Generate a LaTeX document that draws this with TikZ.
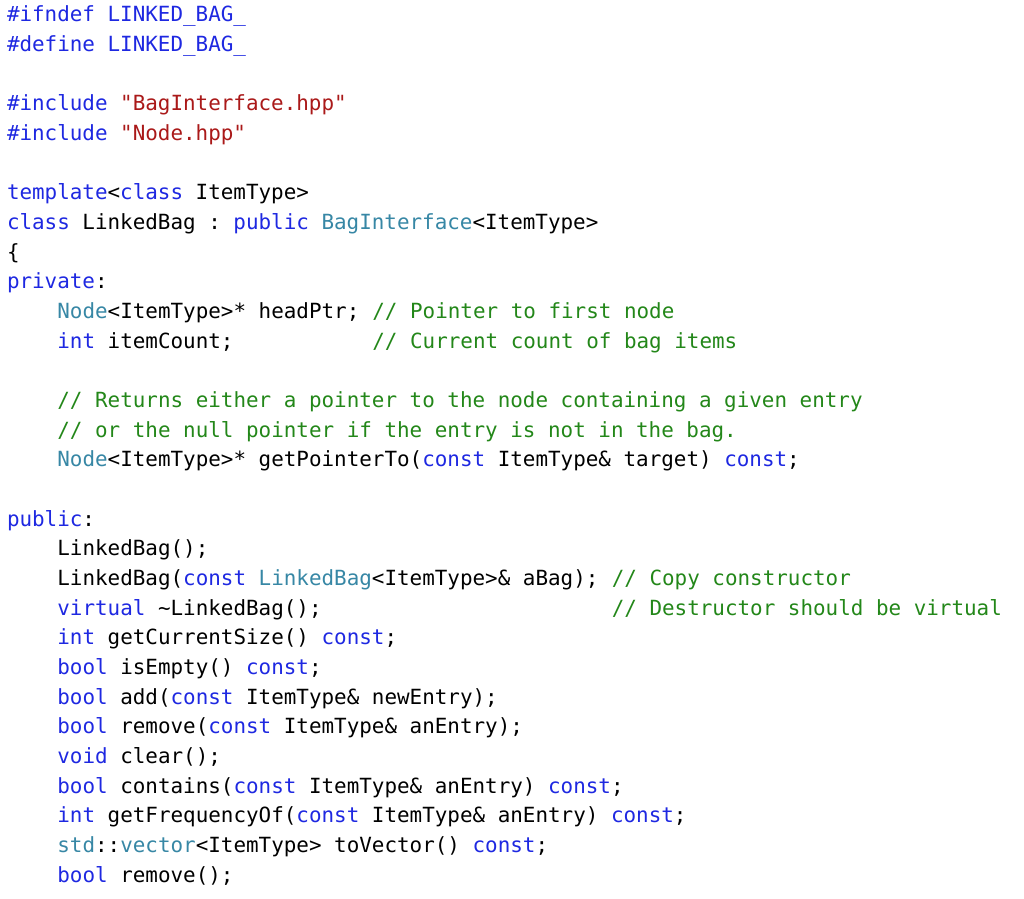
\documentclass[tikz,border=0pt]{standalone}
\usepackage{fontspec}
\setmonofont{DejaVu Sans Mono}
\definecolor{kw}{RGB}{30,40,225}
\definecolor{ty}{RGB}{55,135,165}
\definecolor{st}{RGB}{170,25,25}
\definecolor{cm}{RGB}{35,135,25}
\definecolor{tx}{RGB}{0,0,0}
\newcommand{\K}[1]{\textcolor{kw}{#1}}
\newcommand{\T}[1]{\textcolor{ty}{#1}}
\newcommand{\Sg}[1]{\textcolor{st}{#1}}
\newcommand{\C}[1]{\textcolor{cm}{#1}}
\tikzset{codeline/.style={anchor=base west,inner sep=0pt,outer sep=0pt,font=\ttfamily\fontsize{20.9}{24}\selectfont,text=tx}}
\newcommand{\Ln}[4]{\node[codeline] (#1) at ({7+#3*12.6pt},{898pt-(22pt+(#2-1)*29.66pt)}) {#4};}
\begin{document}
\begin{tikzpicture}[x=1pt,y=1pt]
\useasboundingbox (0,0) rectangle (1024,898);
\Ln{l1}{1}{0}{\K{\#ifndef LINKED\_BAG\_}}
\Ln{l2}{2}{0}{\K{\#define LINKED\_BAG\_}}
\Ln{l4}{4}{0}{\K{\#include} \Sg{"BagInterface.hpp"}}
\Ln{l5}{5}{0}{\K{\#include} \Sg{"Node.hpp"}}
\Ln{l7}{7}{0}{\K{template}<\K{class} ItemType>}
\Ln{l8}{8}{0}{\K{class} LinkedBag : \K{public} \T{BagInterface}<ItemType>}
\Ln{l9}{9}{0}{\{}
\Ln{l10}{10}{0}{\K{private}:}
\Ln{l11}{11}{4}{\T{Node}<ItemType>* headPtr;}
\Ln{l11c}{11}{29}{\C{// Pointer to first node}}
\Ln{l12}{12}{4}{\K{int} itemCount;}
\Ln{l12c}{12}{29}{\C{// Current count of bag items}}
\Ln{l14}{14}{4}{\C{// Returns either a pointer to the node containing a given entry}}
\Ln{l15}{15}{4}{\C{// or the null pointer if the entry is not in the bag.}}
\Ln{l16}{16}{4}{\T{Node}<ItemType>* getPointerTo(\K{const} ItemType\& target) \K{const};}
\Ln{l18}{18}{0}{\K{public}:}
\Ln{l19}{19}{4}{LinkedBag();}
\Ln{l20}{20}{4}{LinkedBag(\K{const} \T{LinkedBag}<ItemType>\& aBag);}
\Ln{l20c}{20}{48}{\C{// Copy constructor}}
\Ln{l21}{21}{4}{\K{virtual} \textasciitilde LinkedBag();}
\Ln{l21c}{21}{48}{\C{// Destructor should be virtual}}
\Ln{l22}{22}{4}{\K{int} getCurrentSize() \K{const};}
\Ln{l23}{23}{4}{\K{bool} isEmpty() \K{const};}
\Ln{l24}{24}{4}{\K{bool} add(\K{const} ItemType\& newEntry);}
\Ln{l25}{25}{4}{\K{bool} remove(\K{const} ItemType\& anEntry);}
\Ln{l26}{26}{4}{\K{void} clear();}
\Ln{l27}{27}{4}{\K{bool} contains(\K{const} ItemType\& anEntry) \K{const};}
\Ln{l28}{28}{4}{\K{int} getFrequencyOf(\K{const} ItemType\& anEntry) \K{const};}
\Ln{l29}{29}{4}{\T{std}::\T{vector}<ItemType> toVector() \K{const};}
\Ln{l30}{30}{4}{\K{bool} remove();}
\end{tikzpicture}
\end{document}
